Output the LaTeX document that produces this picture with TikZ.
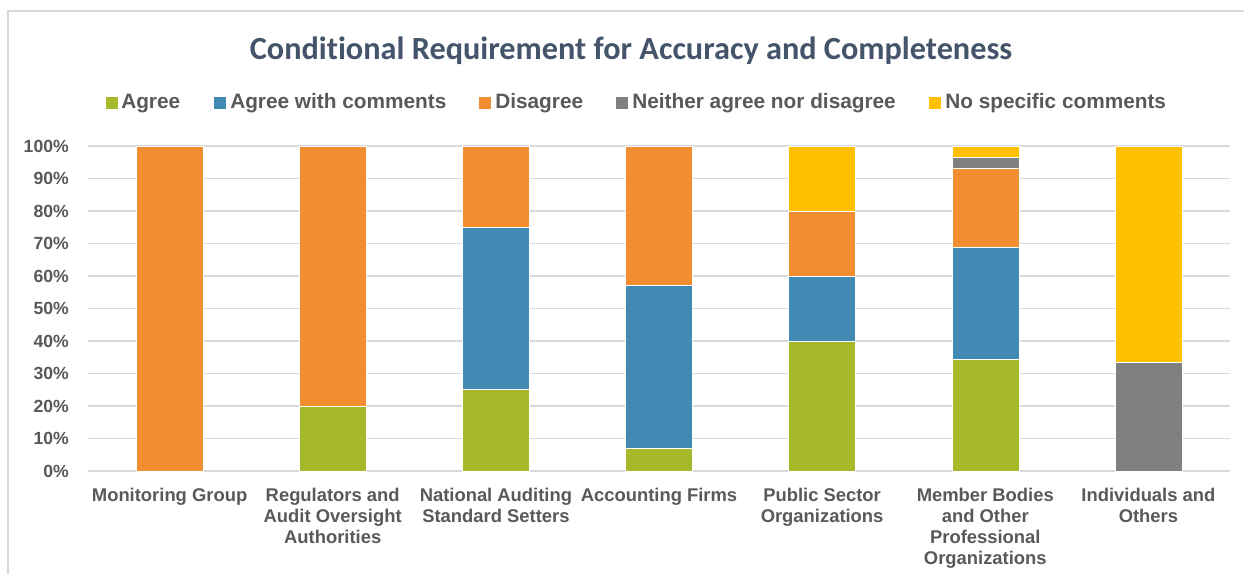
\documentclass[tikz,border=0pt]{standalone}
\usepackage{fontspec}
\setmainfont{Liberation Sans}
\newfontfamily\titlefont[Ligatures=NoCommon]{Carlito}
\definecolor{cagree}{HTML}{A5B92A}
\definecolor{cawc}{HTML}{418AB3}
\definecolor{cdis}{HTML}{F28E30}
\definecolor{cneither}{HTML}{808080}
\definecolor{cnone}{HTML}{FFC000}
\definecolor{ctext}{HTML}{595959}
\definecolor{cgrid}{HTML}{D9D9D9}
\definecolor{ctitle}{HTML}{44546A}
\begin{document}
\begin{tikzpicture}[x=0.75pt,y=-0.75pt,
  gridline/.style={draw=cgrid,line width=0.9pt},
  frameline/.style={draw=cgrid,line width=0.9pt},
  ticklabel/.style={anchor=base east,inner sep=0pt,text=ctext,font=\bfseries\fontsize{13.2}{15}\selectfont},
  catlabel/.style={anchor=north,inner sep=0pt,align=center,text=ctext,font=\bfseries\fontsize{13.8}{15.75}\selectfont},
  legtext/.style={anchor=base west,inner sep=0pt,text=ctext,font=\bfseries\fontsize{15.6}{18}\selectfont},
  legmark/.style={minimum size=9pt,inner sep=0pt,anchor=south west},
  segment/.style={draw=white,line width=0.4pt}]
\useasboundingbox (0,0) rectangle (1244,574);
\fill[white] (0,0) rectangle (1244,574);
% frame
\draw[frameline] (8,574) -- (8,11) -- (1244,11);
% title
\node[anchor=base,inner sep=0pt,text=ctitle,font=\titlefont\bfseries\fontsize{24.2}{29}\selectfont] (title) at (631,60) {Conditional Requirement for Accuracy and Completeness};
% legend
\node[legmark,fill=cagree] (m1) at (106,109) {};
\node[legtext] (l1) at (121,109) {Agree};
\node[legmark,fill=cawc] (m2) at (214,109) {};
\node[legtext] (l2) at (230,109) {Agree with comments};
\node[legmark,fill=cdis] (m3) at (479,109) {};
\node[legtext] (l3) at (495,109) {Disagree};
\node[legmark,fill=cneither] (m4) at (616,109) {};
\node[legtext] (l4) at (632,109) {Neither agree nor disagree};
\node[legmark,fill=cnone] (m5) at (929,109) {};
\node[legtext] (l5) at (945,109) {No specific comments};
% grid and tick labels
\foreach \v in {0,10,...,100} {
  \draw[gridline] (88,{471-3.25*\v}) -- (1230,{471-3.25*\v});
  \node[ticklabel] (t\v) at (69,{471-3.25*\v+6.2}) {\v\%};
}
% bars
\foreach \i/\a/\b/\c in {
  0/0/100/cdis,
  1/0/20/cagree, 1/20/100/cdis,
  2/0/25/cagree, 2/25/75/cawc, 2/75/100/cdis,
  3/0/7/cagree, 3/7/57/cawc, 3/57/100/cdis,
  4/0/40/cagree, 4/40/60/cawc, 4/60/80/cdis, 4/80/100/cnone,
  5/0/34.48/cagree, 5/34.48/68.97/cawc, 5/68.97/93.1/cdis, 5/93.1/96.55/cneither, 5/96.55/100/cnone,
  6/0/33.33/cneither, 6/33.33/100/cnone} {
  \filldraw[segment,fill=\c] ({88+163.14*(\i+0.5)-33.5},{471-3.25*\a}) rectangle ({88+163.14*(\i+0.5)+33.5},{471-3.25*\b});
}
% category labels
\node[catlabel] (c0) at (169.6,488) {Monitoring Group};
\node[catlabel] (c1) at (332.7,488) {Regulators and\\Audit Oversight\\Authorities};
\node[catlabel] (c2) at (495.9,488) {National Auditing\\Standard Setters};
\node[catlabel] (c3) at (659,488) {Accounting Firms};
\node[catlabel] (c4) at (822.1,488) {Public Sector\\Organizations};
\node[catlabel] (c5) at (985.3,488) {Member Bodies\\and Other\\Professional\\Organizations};
\node[catlabel] (c6) at (1148.4,488) {Individuals and\\Others};
\end{tikzpicture}
\end{document}
